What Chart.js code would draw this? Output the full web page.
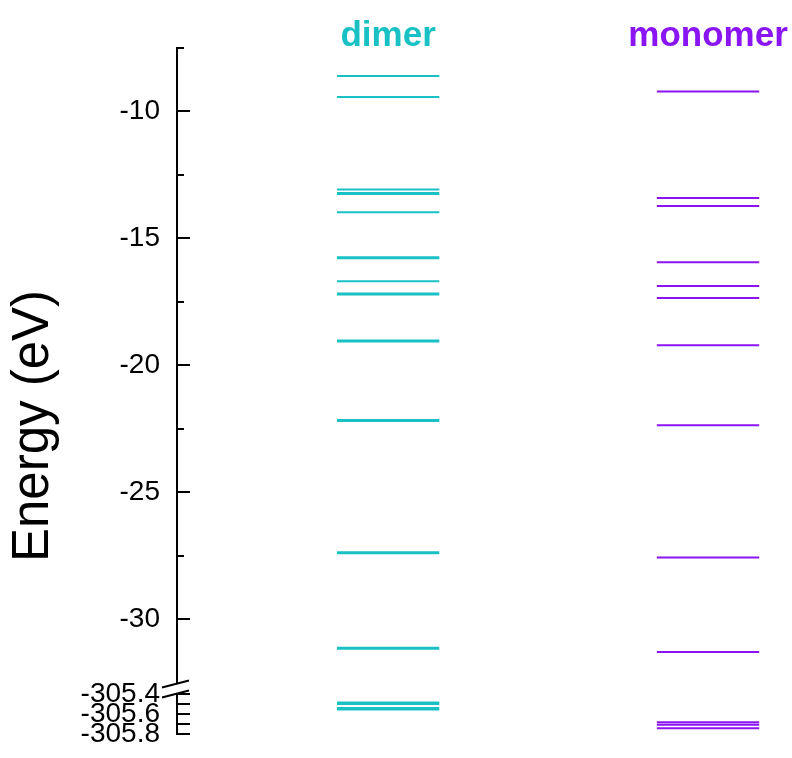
<!DOCTYPE html>
<html>
<head>
<meta charset="utf-8">
<title>Energy levels: dimer and monomer</title>
<script src="https://cdn.jsdelivr.net/npm/chart.js@4.4.1/dist/chart.umd.min.js"></script>
<style>
  html, body { margin: 0; padding: 0; background: #ffffff; }
  #wrap { width: 792px; height: 758px; }
</style>
</head>
<body>
<div id="wrap"><canvas id="chart" width="792" height="758"></canvas></div>
<script>
// Column names
const categories = ['dimer', 'monomer'];

// Valence levels (eV), drawn on the upper part of the broken axis
const dimerValence = [-8.60, -9.43, -13.08, -13.21, -13.25, -13.97, -15.74, -15.78,
  -16.69, -17.17, -17.21, -19.02, -19.06, -22.16, -22.20, -27.37, -27.41, -31.13, -31.17];
const monomerValence = [-9.21, -13.41, -13.73, -15.94, -16.88, -17.35, -19.21, -22.36,
  -27.57, -31.30];

// Core levels (eV), drawn on the lower part of the broken axis
const dimerCore = [-305.485, -305.50, -305.54, -305.555];
const monomerCore = [-305.683, -305.707, -305.743];

// Axis ticks
const upperTicks = [-10, -15, -20, -25, -30];
const upperMinorTicks = [-7.5, -12.5, -17.5, -22.5, -27.5];
const lowerTicks = [-305.4, -305.6, -305.8];
const lowerMinorTicks = [-305.5, -305.7];

// Layout / style settings
const COLORS = ['#19C1C5', '#8A14F2'];
const COL_X = [1, 2];
const HALF = 0.16;
const FONT = '"Liberation Sans", Arial, Helvetica, sans-serif';
const AXIS_X = 177;

// Each level becomes a short horizontal segment; null breaks the line between levels
function levelSegments(levels, center) {
  const pts = [];
  levels.forEach(v => {
    pts.push({ x: center - HALF, y: v }, { x: center + HALF, y: v }, { x: center, y: null });
  });
  return pts;
}

function levelDataset(levels, col, axisId) {
  return {
    data: levelSegments(levels, COL_X[col]),
    yAxisID: axisId,
    borderColor: COLORS[col],
    backgroundColor: COLORS[col],
    borderWidth: 2,
    pointRadius: 0,
    spanGaps: false,
    tension: 0,
    fill: false
  };
}

// Scales keep their exact box: no extra room reserved for overhanging labels
function noLabelPadding(s) {
  s.paddingTop = 0;
  s.paddingBottom = 0;
  s.paddingLeft = 0;
  s.paddingRight = 0;
}

// Axis lines, tick marks, the break marks and the axis title
const axisDecor = {
  id: 'axisDecor',
  afterDraw(chart) {
    const ctx = chart.ctx;
    const yU = chart.scales.yUpper;
    const yL = chart.scales.yLower;
    const ax = yU.right;
    const breakTop = yU.bottom + 1.5;
    const breakBottom = yL.getPixelForValue(lowerTicks[0]);

    ctx.save();
    ctx.strokeStyle = '#000';
    ctx.lineWidth = 2;
    ctx.lineCap = 'butt';

    // axis segments
    ctx.beginPath();
    ctx.moveTo(ax, yU.top - 1);
    ctx.lineTo(ax, breakTop);
    ctx.moveTo(ax, breakBottom);
    ctx.lineTo(ax, yL.bottom + 1);
    ctx.stroke();

    // tick marks pointing into the plot
    const tick = (scale, v, len) => {
      const p = Math.round(scale.getPixelForValue(v));
      ctx.moveTo(ax, p);
      ctx.lineTo(ax + len, p);
    };
    ctx.beginPath();
    upperTicks.forEach(v => tick(yU, v, 13));
    upperMinorTicks.forEach(v => tick(yU, v, 7));
    lowerTicks.forEach(v => tick(yL, v, 13));
    lowerMinorTicks.forEach(v => tick(yL, v, 13));
    ctx.stroke();

    // break marks
    ctx.beginPath();
    [breakTop, breakBottom].forEach(y => {
      ctx.moveTo(ax - 15, y + 3.5);
      ctx.lineTo(ax + 12, y - 3.5);
    });
    ctx.stroke();

    // axis title
    ctx.fillStyle = '#000';
    ctx.font = '51px ' + FONT;
    ctx.textAlign = 'center';
    ctx.textBaseline = 'alphabetic';
    ctx.translate(48, 426);
    ctx.rotate(-Math.PI / 2);
    ctx.fillText('Energy (eV)', 0, 0);
    ctx.restore();
  }
};

const whiteBackground = {
  id: 'whiteBackground',
  beforeDraw(chart) {
    const ctx = chart.ctx;
    ctx.save();
    ctx.fillStyle = '#ffffff';
    ctx.fillRect(0, 0, chart.width, chart.height);
    ctx.restore();
  }
};

const yTickFont = { family: FONT, size: 28 };

new Chart(document.getElementById('chart'), {
  type: 'line',
  data: {
    datasets: [
      levelDataset(dimerValence, 0, 'yUpper'),
      levelDataset(dimerCore, 0, 'yLower'),
      levelDataset(monomerValence, 1, 'yUpper'),
      levelDataset(monomerCore, 1, 'yLower')
    ]
  },
  options: {
    responsive: false,
    animation: false,
    devicePixelRatio: 1,
    layout: { padding: { top: 0, left: 0, right: 4, bottom: 24 } },
    plugins: {
      legend: { display: false },
      tooltip: { enabled: false },
      title: { display: false }
    },
    scales: {
      x: {
        type: 'linear',
        position: 'top',
        min: 0.34,
        max: 2.25,
        grid: { display: false, drawTicks: false },
        border: { display: false },
        afterBuildTicks: s => { s.ticks = COL_X.map(v => ({ value: v })); },
        afterFit: s => { s.height = 48; noLabelPadding(s); },
        ticks: {
          autoSkip: false,
          maxRotation: 0,
          padding: -6,
          font: { family: FONT, size: 35, weight: 'bold', lineHeight: 1 },
          color: c => COLORS[c.index],
          callback: (v, i) => categories[i]
        }
      },
      yLower: {
        type: 'linear',
        position: 'left',
        stack: 'energy',
        stackWeight: 51.5,
        min: -305.8,
        max: -305.285,
        grid: { display: false, drawTicks: false },
        border: { display: false },
        afterBuildTicks: s => { s.ticks = lowerTicks.map(v => ({ value: v })); },
        afterFit: s => { s.width = AXIS_X; noLabelPadding(s); },
        ticks: {
          autoSkip: false,
          padding: 17,
          color: '#000',
          font: yTickFont,
          callback: v => String(v)
        }
      },
      yUpper: {
        type: 'linear',
        position: 'left',
        stack: 'energy',
        stackWeight: 634.5,
        min: -32.5,
        max: -7.5,
        grid: { display: false, drawTicks: false },
        border: { display: false },
        afterBuildTicks: s => { s.ticks = upperTicks.map(v => ({ value: v })); },
        afterFit: s => { s.width = AXIS_X; noLabelPadding(s); },
        ticks: {
          autoSkip: false,
          padding: 17,
          color: '#000',
          font: yTickFont,
          callback: v => String(v)
        }
      }
    }
  },
  plugins: [whiteBackground, axisDecor]
});
</script>
</body>
</html>
